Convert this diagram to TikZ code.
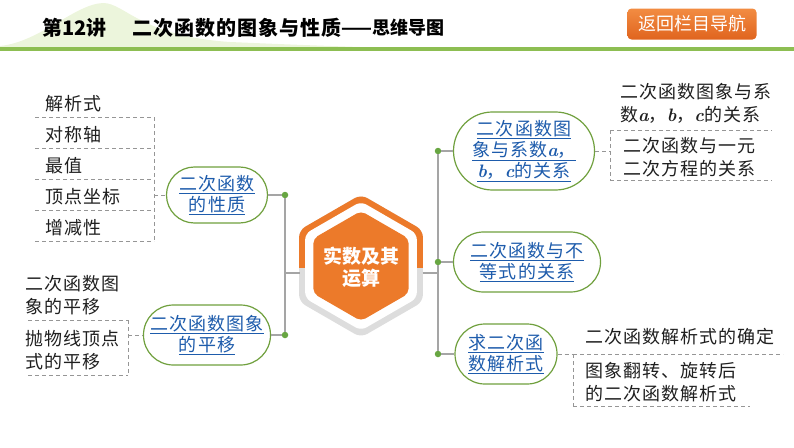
\documentclass[tikz,border=0pt]{standalone}
\usepackage{fontspec}
\usepackage{tikz}
\usetikzlibrary{positioning}
\newfontfamily\cjk{Noto Sans CJK SC}[LetterSpace=6]
\newfontfamily\hei{Noto Sans CJK SC}
\definecolor{ovalgreen}{RGB}{112,160,62}
\definecolor{knotgreen}{RGB}{104,166,66}
\definecolor{linkblue}{RGB}{30,92,172}
\definecolor{stemgray}{RGB}{165,165,165}
\definecolor{guidegray}{RGB}{150,150,150}
\definecolor{hexorange}{RGB}{236,122,42}
\definecolor{hexgray}{RGB}{221,221,221}
\definecolor{headgreen}{RGB}{141,190,82}
\definecolor{hillgreen}{RGB}{236,245,220}
\definecolor{btntop}{RGB}{242,140,66}
\definecolor{btnbot}{RGB}{224,100,30}
\newcommand{\lnk}[1]{\underline{#1}}
\newcommand{\vb}[1]{{\rmfamily\bfseries\itshape #1}}
\newcommand{\hexpath}[1]{(90:#1) -- (150:#1) -- (210:#1) -- (270:#1) -- (330:#1) -- (30:#1) -- cycle}
\tikzset{topic/.style={draw=ovalgreen,line width=1.2pt,fill=white,align=center,inner sep=0pt,text=linkblue,
    font=\cjk\fontsize{18}{21}\selectfont},
  leaf/.style={anchor=west,align=left,inner sep=0pt,text=black!88,font=\cjk\fontsize{18}{23}\selectfont},
  stem/.style={draw=stemgray,line width=1.2pt},
  guide/.style={draw=guidegray,line width=0.9pt,dash pattern=on 4pt off 3pt},
  knot/.style={circle,fill=knotgreen,inner sep=0pt,minimum size=6.5pt},
  btn/.style={rounded corners=4pt,minimum width=129pt,minimum height=31pt,top color=btntop,bottom color=btnbot,
    text=white,font=\hei\fontsize{18}{20}\selectfont}}

\begin{document}
\begin{tikzpicture}[x=1pt,y=-1pt]
\useasboundingbox (0,0) rectangle (794,447);
% header
\fill[hillgreen] (0,46) .. controls (40,42) and (75,4) .. (103,3) .. controls (125,3) and (140,36) .. (230,42)
  .. controls (300,45) and (330,46) .. (360,47) -- (0,47) -- cycle;
\fill[headgreen] (0,46.5) rectangle (794,50.5);
\node[anchor=west,inner sep=0pt,font=\hei\bfseries\fontsize{20}{24}\selectfont] (lec) at (42,28) {第12讲};
\node[anchor=west,inner sep=0pt,font=\hei\bfseries\fontsize{20}{24}\selectfont\addfontfeatures{LetterSpace=5}] (ttl) at (132,28) {二次函数的图象与性质};
\node[anchor=west,inner sep=0pt,font=\hei\bfseries\fontsize{18}{22}\selectfont] (sub) at (ttl.east) {——思维导图};
\node[btn] (back) at (692,24) {返回栏目导航};

% hub
\begin{scope}[shift={(361,266)}]
\fill[hexgray,rounded corners=7pt] \hexpath{71.5};
\begin{scope}
\clip (-80,-80) rectangle (80,1);
\fill[hexorange,rounded corners=7pt] \hexpath{71.5};
\end{scope}
\fill[white,rounded corners=6pt] \hexpath{64.5};
\fill[hexorange,rounded corners=5pt] \hexpath{55};
\end{scope}
\node[align=center,text=white,font=\hei\bfseries\fontsize{19}{22}\selectfont] (hub) at (361,267) {实数及其\\运算};
\coordinate (hubL) at (299.5,273);
\coordinate (hubR) at (422.5,273);

% topics
\node[topic,minimum width=101pt,minimum height=56pt,rounded corners=27.9pt] (prop) at (217,195) {\lnk{二次函数}\\\lnk{的性质}};
\node[topic,minimum width=127pt,minimum height=60pt,rounded corners=29.9pt] (shift) at (207,335) {\lnk{二次函数图象}\\\lnk{的平移}};
\node[topic,minimum width=141pt,minimum height=78pt,rounded corners=38.9pt] (coef) at (524,151) {\lnk{二次函数图}\\\lnk{象与系数\vb{a}，}\\\lnk{\vb{b}，\vb{c}的关系}};
\node[topic,minimum width=147pt,minimum height=60pt,rounded corners=29.9pt] (ineq) at (527,262) {\lnk{二次函数与不}\\\lnk{等式的关系}};
\node[topic,minimum width=102pt,minimum height=60pt,rounded corners=29.9pt] (find) at (506,354) {\lnk{求二次函}\\\lnk{数解析式}};

% spines
\node[knot] (kl1) at (285,195) {};
\node[knot] (kl2) at (285,335) {};
\node[knot] (kr1) at (438,151) {};
\node[knot] (kr2) at (438,262) {};
\node[knot] (kr3) at (438,354) {};
\draw[stem] (kl1) -- (kl2);
\draw[stem] (kr1) -- (kr2);
\draw[stem] (kr2) -- (kr3);
\draw[stem] (hubL) -- (hubL -| kl1);
\draw[stem] (hubR) -- (hubR -| kr1);
\draw[stem] (kl1) -- (prop.east);
\draw[stem] (kl2) -- (shift.east);
\draw[stem] (kr1) -- (coef.west);
\draw[stem] (kr2) -- (ineq.west);
\draw[stem] (kr3) -- (find.west);

% leaves: properties
\foreach \t/\y in {解析式/117,对称轴/148,最值/179,顶点坐标/210,增减性/241}{
  \node[leaf] (lf\y) at (45,\y-13) {\t};
  \draw[guide] (35,\y) -- (154,\y);
}
\draw[guide] (154,117) -- (154,241);
\coordinate (jA) at (154,195);
\draw[guide] (jA) -- (prop.west);

% leaves: translation
\node[leaf] (sh1) at (25,295) {二次函数图\\象的平移};
\draw[guide] (28,320) -- (128,320);
\node[leaf] (sh2) at (25,350) {抛物线顶点\\式的平移};
\draw[guide] (28,375) -- (128,375);
\draw[guide] (128,320) -- (128,375);
\coordinate (jB) at (128,335);
\draw[guide] (jB) -- (shift.west);

% leaves: coefficients
\node[leaf] (cf1) at (620,103) {二次函数图象与系\\数\vb{a}，\vb{b}，\vb{c}的关系};
\draw[guide] (610,130) -- (772,130);
\node[leaf] (cf2) at (623,157) {二次函数与一元\\二次方程的关系};
\draw[guide] (610,180) -- (772,180);
\draw[guide] (610,130) -- (610,180);
\coordinate (jC) at (610,151);
\draw[guide] (coef.east) -- (jC);

% leaves: formula
\node[leaf] (fm1) at (585,337) {二次函数解析式的确定};
\draw[guide] (573,354) -- (783,354);
\node[leaf] (fm2) at (585,382) {图象翻转、旋转后\\的二次函数解析式};
\draw[guide] (573,406) -- (750,406);
\draw[guide] (573,354) -- (573,406);
\coordinate (jD) at (573,354);
\draw[guide] (find.east) -- (jD);
\end{tikzpicture}
\end{document}
